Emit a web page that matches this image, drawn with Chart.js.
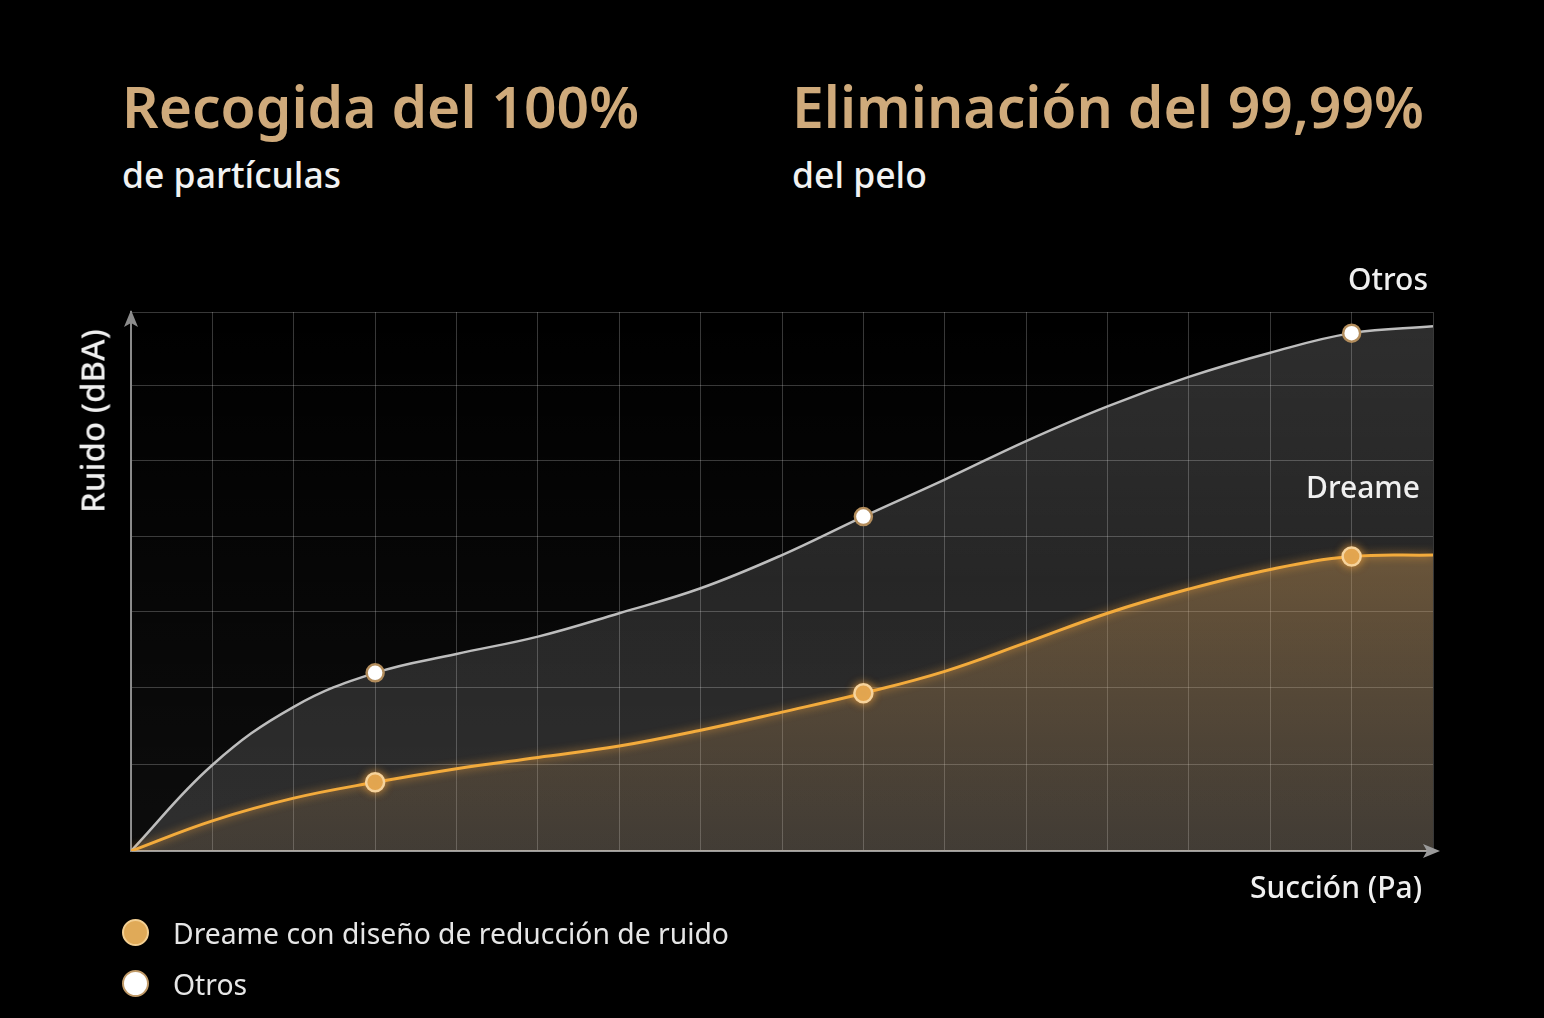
<!DOCTYPE html>
<html lang="es">
<head>
<meta charset="utf-8">
<title>Ruido vs succión</title>
<script src="https://cdn.jsdelivr.net/npm/chart.js@4.4.1/dist/chart.umd.min.js"></script>
<style>
  html, body { margin: 0; padding: 0; background: #000; width: 1544px; height: 1018px; overflow: hidden; font-family: "Noto Sans", sans-serif; }
  .txt { position: absolute; white-space: nowrap; line-height: 1; }
  .title { font-size: 57px; font-weight: 600; color: #cfaa7b; }
  .sub { font-size: 35.5px; font-weight: 500; color: #f2f2f2; }
  .lbl { font-size: 30px; font-weight: 500; color: #f0f0f0; }
  #wrap { position: absolute; left: 0; top: 0; width: 1544px; height: 1018px; }
  #legend { position: absolute; left: 122px; top: 907px; }
  .item { display: flex; align-items: center; height: 51px; font-size: 28.3px; color: #e6e6e6; }
  .dot { width: 27px; height: 27px; border-radius: 50%; margin-right: 24px; box-sizing: border-box; border: 2.5px solid; }
</style>
</head>
<body>
<div class="txt title" style="left:122px; top:78px;">Recogida del 100%</div>
<div class="txt sub" style="left:122px; top:157px;">de partículas</div>
<div class="txt title" style="left:792px; top:78px;">Eliminación del 99,99%</div>
<div class="txt sub" style="left:792px; top:157px;">del pelo</div>

<div id="wrap"><canvas id="chart"></canvas></div>

<div class="txt lbl" style="left:92px; top:421px; font-size:33px; transform: translate(-50%, -50%) rotate(-90deg);">Ruido (dBA)</div>
<div class="txt lbl" style="right:116px; top:264px;">Otros</div>
<div class="txt lbl" style="right:124px; top:472px;">Dreame</div>
<div class="txt lbl" style="right:122px; top:872px;">Succión (Pa)</div>

<div id="legend"></div>

<script>
// posiciones en el eje de succión (sin etiquetas en el original)
const succion = [0, 1, 2, 3, 4, 5, 6, 7, 8, 9, 10, 11, 12, 13, 14, 15, 16];
// ruido (unidades arbitrarias, 1 = una celda de la cuadrícula)
const ruidoDreame = [0, 0.40, 0.70, 0.91, 1.09, 1.24, 1.39, 1.60, 1.84, 2.09, 2.38, 2.76, 3.15, 3.47, 3.73, 3.90, 3.92];
const ruidoOtros = [0, 1.14, 1.91, 2.36, 2.61, 2.84, 3.15, 3.48, 3.92, 4.43, 4.92, 5.43, 5.89, 6.28, 6.60, 6.86, 6.95];
// puntos marcados con círculo
const puntosMarcados = [3, 9, 15];
// líneas horizontales de la cuadrícula
const yGrid = [0, 1.15, 2.16, 3.17, 4.17, 5.17, 6.16, 7.14];
const etiquetas = ['Dreame con diseño de reducción de ruido', 'Otros'];

const toPoints = (ys) => succion.map((x, i) => ({ x: x, y: ys[i] }));
const marked = (ctx, r) => puntosMarcados.includes(ctx.dataIndex) ? r : 0;

function vGradient(ctx, stops) {
  const area = ctx.chart.chartArea;
  if (!area) return stops[0][1];
  const g = ctx.chart.ctx.createLinearGradient(0, area.top, 0, area.bottom);
  stops.forEach(s => g.addColorStop(s[0], s[1]));
  return g;
}

// brillo de la línea naranja
const glowPlugin = {
  id: 'glow',
  beforeDatasetDraw(chart, args) {
    if (args.index !== 0) return;
    chart.ctx.save();
    chart.ctx.shadowColor = 'rgba(255, 170, 60, 0.7)';
    chart.ctx.shadowBlur = 8;
  },
  afterDatasetDraw(chart, args) {
    if (args.index !== 0) return;
    chart.ctx.restore();
  }
};

// fondo suave del área + flechas en los extremos de los ejes
const arrowPlugin = {
  id: 'arrows',
  beforeDatasetsDraw(chart) {
    const { ctx, chartArea: a } = chart;
    const g = ctx.createLinearGradient(0, a.top, 0, a.bottom);
    g.addColorStop(0, 'rgba(255,255,255,0.0)');
    g.addColorStop(1, 'rgba(255,255,255,0.05)');
    ctx.save();
    ctx.fillStyle = g;
    ctx.fillRect(a.left, a.top, a.right - a.left, a.bottom - a.top);
    ctx.restore();
  },
  afterDraw(chart) {
    const { ctx, chartArea } = chart;
    ctx.save();
    ctx.fillStyle = '#8c8c8c';
    ctx.beginPath();
    ctx.moveTo(chartArea.left, chartArea.top - 2);
    ctx.lineTo(chartArea.left - 7, chartArea.top + 15);
    ctx.lineTo(chartArea.left, chartArea.top + 11);
    ctx.lineTo(chartArea.left + 7, chartArea.top + 15);
    ctx.closePath();
    ctx.fill();
    ctx.fillStyle = '#9a9a9a';
    ctx.beginPath();
    ctx.moveTo(chartArea.right + 7, chartArea.bottom);
    ctx.lineTo(chartArea.right - 10, chartArea.bottom - 7);
    ctx.lineTo(chartArea.right - 6, chartArea.bottom);
    ctx.lineTo(chartArea.right - 10, chartArea.bottom + 7);
    ctx.closePath();
    ctx.fill();
    ctx.restore();
  }
};

const chart = new Chart(document.getElementById('chart'), {
  type: 'line',
  data: {
    datasets: [
      {
        label: etiquetas[0],
        data: toPoints(ruidoDreame),
        borderColor: '#f3ab3c',
        borderWidth: 3,
        fill: 'origin',
        backgroundColor: ctx => vGradient(ctx, [[0, 'rgba(205,155,85,0.55)'], [0.45, 'rgba(200,150,85,0.42)'], [1, 'rgba(180,140,90,0.14)']]),
        tension: 0.4,
        pointRadius: ctx => marked(ctx, 9),
        pointBackgroundColor: '#dea553',
        pointBorderColor: '#f6d39c',
        pointBorderWidth: 2.5
      },
      {
        label: etiquetas[1],
        data: toPoints(ruidoOtros),
        borderColor: '#bdbdbd',
        borderWidth: 2.5,
        fill: 'origin',
        backgroundColor: ctx => vGradient(ctx, [[0, 'rgba(255,255,255,0.18)'], [0.5, 'rgba(255,255,255,0.13)'], [1, 'rgba(255,255,255,0.14)']]),
        tension: 0.4,
        pointRadius: ctx => marked(ctx, 8.5),
        pointBackgroundColor: '#ffffff',
        pointBorderColor: '#b38d5c',
        pointBorderWidth: 2.5
      }
    ]
  },
  options: {
    responsive: true,
    maintainAspectRatio: false,
    animation: false,
    layout: { autoPadding: false, padding: { left: 131, top: 312, right: 111, bottom: 167 } },
    plugins: { legend: { display: false }, tooltip: { enabled: false } },
    scales: {
      x: {
        type: 'linear',
        min: 0,
        max: 16,
        ticks: { display: false, stepSize: 1 },
        grid: { color: 'rgba(255,255,255,0.22)', lineWidth: 1, drawTicks: false },
        border: { color: '#9a9a9a', width: 2 }
      },
      y: {
        min: 0,
        max: 7.14,
        afterBuildTicks: axis => { axis.ticks = yGrid.map(v => ({ value: v })); },
        ticks: { display: false },
        grid: { color: 'rgba(255,255,255,0.22)', lineWidth: 1, drawTicks: false },
        border: { color: '#8a8a8a', width: 2 }
      }
    }
  },
  plugins: [glowPlugin, arrowPlugin]
});

// leyenda
const legend = document.getElementById('legend');
const dotStyles = [['#e0aa58', '#f3cf92'], ['#ffffff', '#c09a68']];
chart.data.datasets.forEach((ds, i) => {
  const item = document.createElement('div');
  item.className = 'item';
  const dot = document.createElement('span');
  dot.className = 'dot';
  dot.style.background = dotStyles[i][0];
  dot.style.borderColor = dotStyles[i][1];
  item.appendChild(dot);
  item.appendChild(document.createTextNode(ds.label));
  legend.appendChild(item);
});
</script>
</body>
</html>
